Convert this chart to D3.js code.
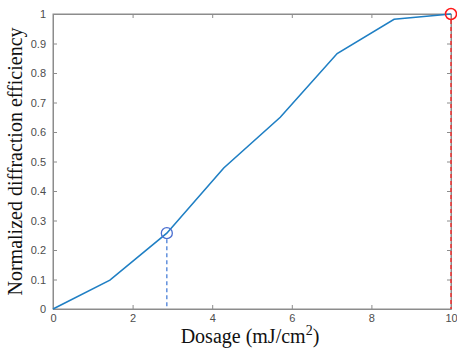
<!DOCTYPE html>
<html>
<head>
<meta charset="utf-8">
<script src="https://cdn.jsdelivr.net/npm/d3@7"></script>
<style>
  body { margin: 0; background: #fff; }
</style>
</head>
<body>
<div id="chart"></div>
<script>
'use strict'

// dosage (mJ/cm2) and normalized efficiency
const dosage = [0, 1.43, 2.86, 4.29, 5.71, 7.14, 8.57, 10]
const efficiency = [0, 0.098, 0.257, 0.478, 0.65, 0.866, 0.982, 1]
const xTicks = [0, 2, 4, 6, 8, 10]
const yTicks = [0, 0.1, 0.2, 0.3, 0.4, 0.5, 0.6, 0.7, 0.8, 0.9, 1]
// marked points: [dosage, efficiency]
const bluePoint = [2.86, 0.257]
const redPoint = [10, 1]

const svgWidth = 457, svgHeight = 348
const margin = { left: 53, right: 6, top: 14, bottom: 39 }
const width = svgWidth - margin.left - margin.right
const height = svgHeight - margin.top - margin.bottom

const svg = d3.select('#chart')
    .append('svg')
    .attr('width', svgWidth)
    .attr('height', svgHeight)

const g = svg.append('g')
    .attr('transform', `translate(${margin.left},${margin.top})`)

const x = d3.scaleLinear().domain([0, 10]).range([0, width])
const y = d3.scaleLinear().domain([0, 1]).range([height, 0])

const axisColor = '#8c8c8c'
const tickFont = '"Liberation Sans", Arial, sans-serif'

// box
g.append('rect')
    .attr('width', width).attr('height', height)
    .attr('fill', 'none').attr('stroke', axisColor).attr('stroke-width', 1)

g.append('g')
    .attr('transform', `translate(0,${height})`)
    .call(d3.axisBottom(x).tickValues(xTicks).tickSizeInner(-4).tickSizeOuter(0).tickPadding(5))
g.append('g')
    .call(d3.axisLeft(y).tickValues(yTicks).tickSizeInner(-4).tickSizeOuter(0).tickPadding(7)
        .tickFormat(d => d === 0 || d === 1 ? d3.format('d')(d) : d3.format('.1f')(d)))
g.append('g')
    .call(d3.axisTop(x).tickValues(xTicks).tickSizeInner(-4).tickSizeOuter(0).tickFormat(''))
g.append('g')
    .attr('transform', `translate(${width},0)`)
    .call(d3.axisRight(y).tickValues(yTicks).tickSizeInner(-4).tickSizeOuter(0).tickFormat(''))

g.selectAll('.domain').attr('stroke', axisColor)
g.selectAll('.tick line').attr('stroke', axisColor)
g.selectAll('.tick text')
    .attr('fill', '#4d4d4d')
    .style('font-family', tickFont)
    .style('font-size', '11px')

// dashed guides
g.append('line')
    .attr('x1', x(bluePoint[0])).attr('x2', x(bluePoint[0]))
    .attr('y1', y(bluePoint[1]) + 6).attr('y2', y(0))
    .attr('stroke', '#4a7fd8').attr('stroke-width', 1.3)
    .attr('stroke-dasharray', '4,3')
g.append('line')
    .attr('x1', x(redPoint[0])).attr('x2', x(redPoint[0]))
    .attr('y1', y(redPoint[1]) + 6).attr('y2', y(0))
    .attr('stroke', '#ff2020').attr('stroke-width', 1.3)
    .attr('stroke-dasharray', '4,3')

// curve
const data = dosage.map((d, i) => ({ x: d, y: efficiency[i] }))
g.append('path')
    .datum(data)
    .attr('fill', 'none')
    .attr('stroke', '#1f7fc4')
    .attr('stroke-width', 1.6)
    .attr('d', d3.line().x(d => x(d.x)).y(d => y(d.y)))

// circle markers
g.append('circle')
    .attr('cx', x(bluePoint[0])).attr('cy', y(bluePoint[1])).attr('r', 5.5)
    .attr('fill', 'none').attr('stroke', '#4a6fd0').attr('stroke-width', 1.3)
g.append('circle')
    .attr('cx', x(redPoint[0])).attr('cy', y(redPoint[1])).attr('r', 5.5)
    .attr('fill', 'none').attr('stroke', '#ff1a1a').attr('stroke-width', 1.5)

// axis titles
const serif = '"Liberation Serif", "Times New Roman", serif'
const xTitle = svg.append('text')
    .attr('x', margin.left + width / 2 - 2)
    .attr('y', 343)
    .attr('text-anchor', 'middle')
    .style('font-family', serif)
    .style('font-size', '20px')
    .attr('fill', '#111')
xTitle.append('tspan').text('Dosage (mJ/cm')
xTitle.append('tspan').attr('dy', -8).style('font-size', '14px').text('2')
xTitle.append('tspan').attr('dy', 8).text(')')

svg.append('text')
    .attr('transform', `translate(22,${margin.top + height / 2}) rotate(-90)`)
    .attr('text-anchor', 'middle')
    .style('font-family', serif)
    .style('font-size', '20px')
    .attr('fill', '#111')
    .text('Normalized diffraction efficiency')
</script>
</body>
</html>
